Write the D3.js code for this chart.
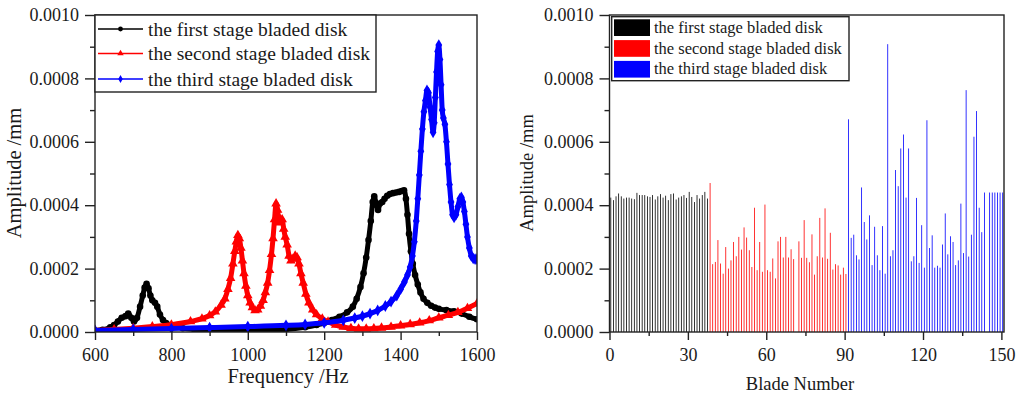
<!DOCTYPE html>
<html>
<head>
<meta charset="utf-8">
<script src="https://cdn.jsdelivr.net/npm/d3@7"></script>
<style>
  body { margin: 0; background: #fff; }
  svg { display: block; }
  text { font-family: "Liberation Serif", "Times New Roman", serif; fill: #1a1a1a; }
</style>
</head>
<body>
<svg id="chart" width="1023" height="396"></svg>
<script>
// ---- Frequency response of the three stages (Hz, mm) ----
const freqFirst = [600,620,640,650,660,670,680,687,695,702,710,718,725,730,735,740,745,750,757,763,770,778,786,795,810,830,860,900,950,1000,1050,1100,1150,1180,1200,1220,1240,1260,1275,1285,1295,1303,1310,1316,1322,1327,1331,1336,1341,1346,1352,1358,1365,1372,1380,1388,1396,1403,1409,1414,1418,1422,1427,1432,1438,1445,1452,1460,1470,1480,1490,1500,1520,1540,1560,1580,1600];
const ampFirst = [0.05,0.07,0.15,0.22,0.33,0.45,0.50,0.58,0.45,0.33,0.45,0.80,1.15,1.40,1.52,1.38,1.15,1.00,0.92,0.80,0.55,0.38,0.28,0.22,0.17,0.12,0.08,0.05,0.04,0.04,0.06,0.08,0.15,0.22,0.28,0.38,0.48,0.62,0.80,1.05,1.42,1.85,2.35,2.90,3.50,4.10,4.28,4.05,3.85,4.05,4.10,4.20,4.30,4.35,4.38,4.40,4.42,4.45,4.47,4.20,3.70,3.10,2.55,2.15,1.80,1.50,1.25,1.05,0.92,0.83,0.77,0.73,0.69,0.65,0.58,0.48,0.40];

const freqSecond = [600,650,700,750,800,850,880,900,915,930,940,948,955,961,966,970,974,978,982,986,990,995,1000,1006,1012,1019,1026,1033,1040,1046,1052,1057,1062,1066,1070,1074,1078,1082,1086,1090,1094,1098,1103,1108,1113,1118,1124,1129,1134,1139,1145,1152,1160,1170,1180,1195,1210,1230,1250,1270,1290,1310,1330,1350,1375,1400,1425,1450,1475,1500,1525,1550,1575,1600];
const ampSecond = [0.05,0.08,0.12,0.17,0.23,0.33,0.42,0.52,0.64,0.85,1.05,1.35,1.70,2.15,2.55,2.85,3.05,2.95,2.65,2.25,1.85,1.45,1.15,0.92,0.77,0.68,0.70,0.82,1.00,1.25,1.55,1.95,2.45,2.95,3.55,4.05,3.85,3.45,3.55,3.55,3.25,3.00,2.75,2.40,2.25,2.30,2.40,2.35,2.15,1.85,1.55,1.20,0.92,0.70,0.55,0.42,0.32,0.22,0.16,0.12,0.10,0.10,0.11,0.13,0.16,0.20,0.24,0.29,0.36,0.45,0.53,0.62,0.75,0.90];

const freqThird = [600,700,800,900,1000,1100,1150,1200,1250,1280,1300,1320,1340,1360,1375,1390,1400,1410,1418,1425,1431,1436,1441,1445,1449,1453,1457,1461,1465,1469,1473,1477,1481,1485,1488,1491,1494,1497,1500,1503,1506,1509,1512,1516,1520,1524,1528,1532,1536,1540,1545,1550,1555,1559,1563,1567,1571,1575,1580,1585,1590,1595,1600];
const ampThird = [0.05,0.08,0.11,0.14,0.17,0.21,0.24,0.29,0.37,0.44,0.50,0.58,0.68,0.82,0.96,1.15,1.35,1.58,1.80,2.05,2.40,2.85,3.50,4.20,4.95,5.70,6.40,6.95,7.30,7.62,7.55,7.10,6.70,6.30,6.60,7.40,8.20,8.85,9.05,8.60,7.80,7.00,6.75,6.55,6.00,5.30,4.65,4.10,3.70,3.62,3.70,3.95,4.20,4.25,4.10,3.80,3.40,3.00,2.65,2.40,2.32,2.30,2.30];

// ---- Amplitude of each blade (×1e-4 mm), numbered consecutively over the stages ----
const bladeFirst = [4.24,4.16,4.28,4.37,4.28,4.21,4.24,4.24,4.21,4.19,4.39,4.32,4.32,4.32,4.28,4.26,4.32,4.18,4.28,4.35,4.24,4.30,4.16,4.35,4.37,4.18,4.24,4.28,4.32,4.23,4.42,4.26,4.10,4.32,4.21,4.32,4.42,4.21];
const bladeSecond = [4.70,2.14,2.21,2.90,2.16,1.84,2.68,2.00,2.26,2.84,2.39,3.00,2.60,3.30,2.98,2.58,2.05,3.92,1.95,2.84,1.90,4.02,1.95,1.90,2.32,1.69,2.86,3.00,2.35,3.00,2.35,2.61,2.30,null,2.86,2.34,3.53,2.34,2.20,3.08,1.81,2.39,3.60,2.35,3.90,2.31,3.13,1.97,2.14,2.10,1.81,2.03,1.83];
const bladeThird = [6.71,2.97,3.07,2.42,2.29,4.56,3.47,2.92,3.68,2.11,3.32,2.42,1.95,3.34,1.84,9.08,2.39,2.58,5.11,4.60,5.79,6.23,4.24,5.79,2.23,2.39,4.23,2.18,3.37,2.03,6.68,2.65,3.05,2.03,2.09,2.03,2.76,3.74,2.45,3.02,2.84,2.11,2.26,4.05,2.49,7.63,2.38,3.07,6.16,6.97,3.92,3.15,4.40,null,4.40,4.40,4.40,4.40,4.40,4.40];

const stageNames = ["the first stage bladed disk", "the second stage bladed disk", "the third stage bladed disk"];
const stageColors = ["#000000", "#ff0000", "#0000ff"];

const ampTicks = [0, 0.0002, 0.0004, 0.0006, 0.0008, 0.0010];
const ampMinor = [0.0001, 0.0003, 0.0005, 0.0007, 0.0009];
const freqTicks = [600, 800, 1000, 1200, 1400, 1600];
const freqMinor = [700, 900, 1100, 1300, 1500];
const bladeTicks = [0, 30, 60, 90, 120, 150];
const bladeMinor = [15, 45, 75, 105, 135];

const svg = d3.select("#chart");
const axisColor = "#222";
const fmt = d3.format(".4f");

function frame(g, x0, x1, y0, y1) {
  g.append("rect").attr("x", x0).attr("y", y0).attr("width", x1 - x0).attr("height", y1 - y0)
    .attr("fill", "none").attr("stroke", axisColor).attr("stroke-width", 1.4);
}

function drawAxes(g, x, y, xt, xm, yt, ym, yPlot, xPlot, labelSize) {
  const bottom = g.append("g").attr("transform", `translate(0,${yPlot})`);
  bottom.call(d3.axisBottom(x).tickValues(xt).tickSize(8).tickPadding(8).tickFormat(d3.format("d")));
  bottom.append("g").call(d3.axisBottom(x).tickValues(xm).tickSize(4).tickFormat(""));
  const left = g.append("g").attr("transform", `translate(${xPlot},0)`);
  left.call(d3.axisLeft(y).tickValues(yt).tickSize(10).tickPadding(6).tickFormat(fmt));
  left.append("g").call(d3.axisLeft(y).tickValues(ym).tickSize(5).tickFormat(""));
  g.selectAll(".domain").remove();
  g.selectAll(".tick line").attr("stroke", axisColor).attr("stroke-width", 1.4);
  g.selectAll(".tick text").attr("font-size", labelSize).attr("fill", "#1a1a1a")
    .attr("font-family", '"Liberation Serif","Times New Roman",serif');
}

// ================= Left: frequency response =================
const L = { x0: 95, x1: 477, y0: 15, y1: 332 };
const xF = d3.scaleLinear().domain([600, 1600]).range([L.x0, L.x1]);
const yA = d3.scaleLinear().domain([0, 0.001]).range([L.y1, L.y0]);
const gL = svg.append("g");

const series = [
  { f: freqFirst, a: ampFirst, sym: d3.symbolCircle, size: 34 },
  { f: freqSecond, a: ampSecond, sym: d3.symbolTriangle, size: 40 },
  { f: freqThird, a: ampThird, sym: d3.symbolDiamond, size: 40 }
];

svg.append("defs").append("clipPath").attr("id", "clipL")
  .append("rect").attr("x", L.x0).attr("y", L.y0 - 5).attr("width", L.x1 - L.x0).attr("height", L.y1 - L.y0 + 5);

const line = d3.line().x(d => xF(d[0])).y(d => yA(d[1])).curve(d3.curveMonotoneX);
const plotL = gL.append("g").attr("clip-path", "url(#clipL)");
series.forEach((s, i) => {
  const pts = s.f.map((f, k) => [f, s.a[k] * 1e-4]);
  plotL.append("path").attr("d", line(pts)).attr("fill", "none")
    .attr("stroke", stageColors[i]).attr("stroke-width", 5).attr("stroke-linejoin", "round");
  plotL.selectAll(null).data(pts).enter().append("path")
    .attr("d", d3.symbol().type(s.sym).size(s.size))
    .attr("transform", d => `translate(${xF(d[0])},${yA(d[1])})`)
    .attr("fill", stageColors[i]);
});

drawAxes(gL, xF, yA, freqTicks, freqMinor, ampTicks, ampMinor, L.y1, L.x0, 18);
frame(gL, L.x0, L.x1, L.y0, L.y1);

// legend
const legL = gL.append("g");
legL.append("rect").attr("x", 95).attr("y", 15).attr("width", 281).attr("height", 77)
  .attr("fill", "#fff").attr("stroke", axisColor).attr("stroke-width", 1.4);
const legRows = [29, 53.5, 79];
series.forEach((s, i) => {
  const cy = legRows[i];
  legL.append("line").attr("x1", 98).attr("x2", 143).attr("y1", cy).attr("y2", cy)
    .attr("stroke", stageColors[i]).attr("stroke-width", 1.5);
  legL.append("path").attr("d", d3.symbol().type(s.sym).size(18)).attr("transform", `translate(120.5,${cy})`)
    .attr("fill", stageColors[i]);
  legL.append("text").attr("x", 148).attr("y", cy + 6.5).attr("font-size", 19.5).text(stageNames[i]);
});

gL.append("text").attr("x", 288).attr("y", 383).attr("text-anchor", "middle").attr("font-size", 20.5).text("Frequency /Hz");
gL.append("text").attr("transform", "translate(21,173) rotate(-90)").attr("text-anchor", "middle")
  .attr("font-size", 20.5).text("Amplitude /mm");

// ================= Right: amplitude per blade =================
const R = { x0: 609.5, x1: 1004, y0: 15, y1: 332 };
const xB = d3.scaleLinear().domain([0, 151]).range([R.x0, R.x1]);
const yB = d3.scaleLinear().domain([0, 0.001]).range([R.y1, R.y0]);
const gR = svg.append("g");

const bars = [];
[bladeFirst, bladeSecond, bladeThird].forEach((arr, s) => {
  arr.forEach(v => bars.push({ n: bars.length + 1, v: v, s: s }));
});
const barW = 0.8;
gR.selectAll(null).data(bars.filter(d => d.v !== null)).enter().append("rect")
  .attr("x", d => xB(d.n - 0.5) - barW / 2)
  .attr("y", d => yB(d.v * 1e-4))
  .attr("width", barW)
  .attr("height", d => yB(0) - yB(d.v * 1e-4))
  .attr("fill", d => stageColors[d.s]);

drawAxes(gR, xB, yB, bladeTicks, bladeMinor, ampTicks, ampMinor, R.y1, R.x0, 18);
frame(gR, R.x0, R.x1, R.y0, R.y1);

const legR = gR.append("g");
legR.append("rect").attr("x", 611.7).attr("y", 16.7).attr("width", 237.3).attr("height", 64)
  .attr("fill", "#fff").attr("stroke", axisColor).attr("stroke-width", 1.4);
const swatchY = [19.3, 40.1, 60.9];
stageNames.forEach((name, i) => {
  legR.append("rect").attr("x", 614).attr("y", swatchY[i]).attr("width", 36).attr("height", 16.7)
    .attr("fill", stageColors[i]);
  legR.append("text").attr("x", 654).attr("y", swatchY[i] + 13.5).attr("font-size", 16.5).text(name);
});

gR.append("text").attr("x", 800).attr("y", 390).attr("text-anchor", "middle").attr("font-size", 18.5).text("Blade Number");
gR.append("text").attr("transform", "translate(533,173) rotate(-90)").attr("text-anchor", "middle")
  .attr("font-size", 18.5).text("Amplitude /mm");
</script>
</body>
</html>
